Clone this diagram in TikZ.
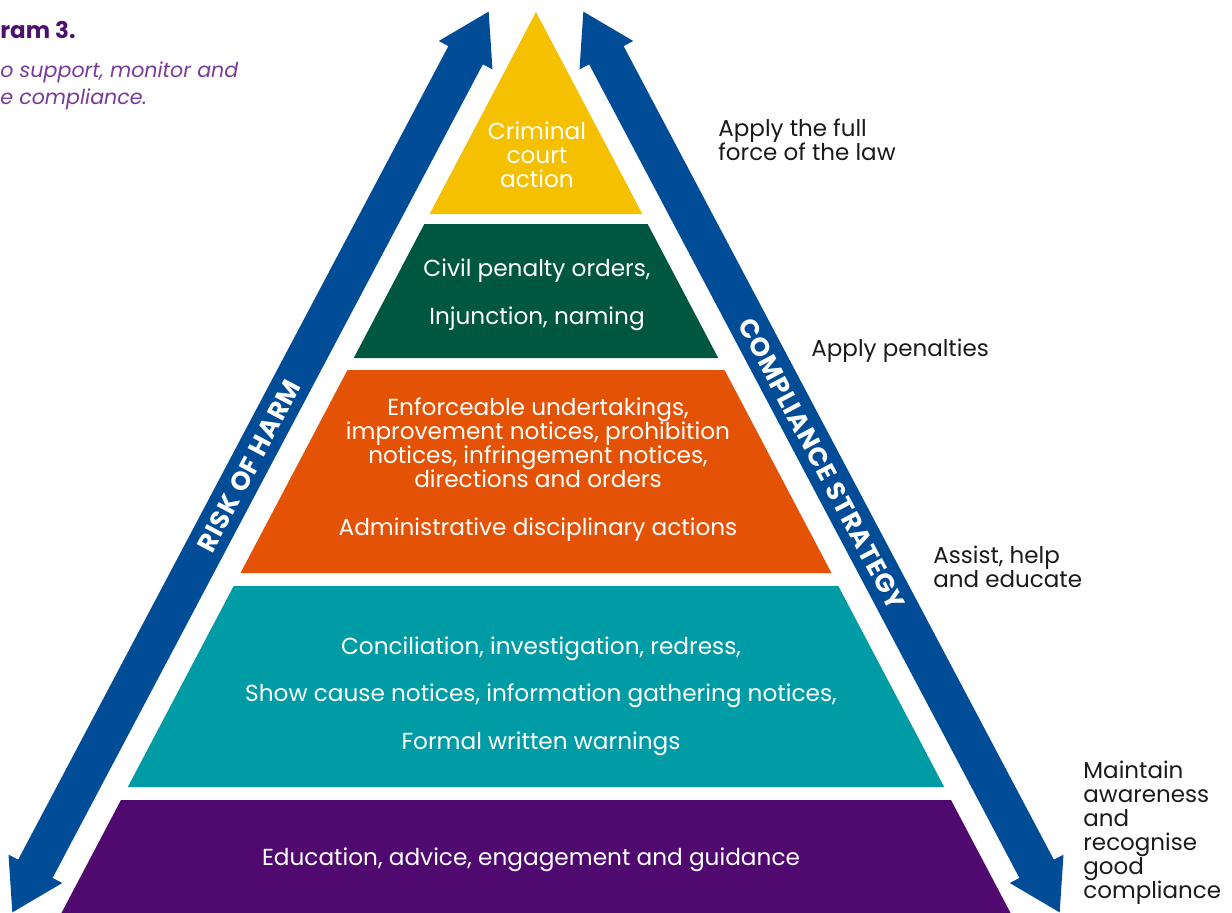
\documentclass[tikz,border=0pt]{standalone}
\usepackage{fontspec}
\setmainfont{Poppins}
\usetikzlibrary{arrows.meta}
\definecolor{vYellow}{HTML}{F4C000}
\definecolor{vGreen}{HTML}{00573F}
\definecolor{vOrange}{HTML}{E35205}
\definecolor{vTeal}{HTML}{009CA6}
\definecolor{vPurple}{HTML}{500A6F}
\definecolor{vBlue}{HTML}{004C97}
\definecolor{vHead}{HTML}{4B1070}
\definecolor{vSub}{HTML}{7A3A9A}
\definecolor{vInk}{HTML}{1A1A1A}

\begin{document}
\begin{tikzpicture}[x=0.5pt, y=-0.5pt,
    band/.style={text=white, align=center, font=\fontsize{11.6}{12}\selectfont},
    side/.style={text=vInk, align=left, anchor=west, inner sep=0pt,
                 font=\fontsize{11.5}{12}\selectfont},
    scalearrow/.style={line width=19.5pt, vBlue,
                 {Triangle[length=25pt, width=28.5pt]}-{Triangle[length=25pt, width=28.5pt]}},
    arrowlbl/.style={text=white, inner sep=0pt,
                 font=\bfseries\fontsize{13}{15}\selectfont\addfontfeatures{LetterSpace=3}}]
  \useasboundingbox (0,0) rectangle (1232,912);

  % pyramid: apex at (536,12), sides with slope 0.5267
  \fill[vYellow] (536,12) -- ({536+0.5267*202},214) -- ({536-0.5267*202},214) -- cycle;
  \foreach \ytop/\ybot/\col in {224/358/vGreen, 370/573/vOrange, 586/787/vTeal, 800/920/vPurple}
    \fill[\col] ({536-0.5267*(\ytop-12)},\ytop) -- ({536+0.5267*(\ytop-12)},\ytop)
      -- ({536+0.5267*(\ybot-12)},\ybot) -- ({536-0.5267*(\ybot-12)},\ybot) -- cycle;

  % the two double arrows
  \coordinate (harmlo) at (12,913);
  \coordinate (harmhi) at (489,11);
  \coordinate (strathi) at (583,11);
  \coordinate (stratlo) at (1060,913);
  \draw[scalearrow] (harmlo) -- (harmhi);
  \draw[scalearrow] (strathi) -- (stratlo);
  \node[arrowlbl, rotate=62.1] (harm) at (249,466) {RISK OF HARM};
  \node[arrowlbl, rotate=-62.1] (strategy) at (822,464) {COMPLIANCE STRATEGY};

  \node[band] (crim) at (537,155) {Criminal\\court\\action};
  \node[band] (civil) at (537,295) {Civil penalty orders,\\[12pt]Injunction, naming};
  \node[band] (enforce) at (538,470) {Enforceable undertakings,\\improvement notices, prohibition\\notices, infringement notices,\\directions and orders\\[12pt]Administrative disciplinary actions};
  \node[band] (concil) at (541,696) {Conciliation, investigation, redress,\\[11.75pt]Show cause notices, information gathering notices,\\[11.75pt]Formal written warnings};
  \node[band] (educ) at (531,860) {Education, advice, engagement and guidance};

  \node[side] (fulllaw) at (718,140) {Apply the full\\force of the law};
  \node[side] (penalty) at (811,351) {Apply penalties};
  \node[side] (assist) at (933,567) {Assist, help\\and educate};
  \node[side] (maintain) at (1083,833) {Maintain\\awareness\\and\\recognise\\good\\compliance};

  \node[anchor=west, inner sep=0pt, text=vHead, font=\bfseries\fontsize{11.5}{14}\selectfont] (diagno) at (0,30) {ram 3.};
  \node[anchor=west, inner sep=0pt, align=left, text=vSub,
        font=\itshape\fontsize{10.3}{13.5}\selectfont] (purpose) at (0,85.5) {o support, monitor and\\e compliance.};
\end{tikzpicture}
\end{document}
